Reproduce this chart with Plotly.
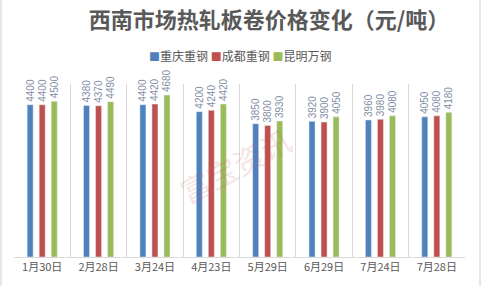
import plotly.graph_objects as go

categories = ["1月30日", "2月28日", "3月24日", "4月23日", "5月29日", "6月29日", "7月24日", "7月28日"]
series_names = ["重庆重钢", "成都重钢", "昆明万钢"]
chongqing = [4400, 4380, 4400, 4200, 3850, 3920, 3960, 4050]
chengdu = [4400, 4370, 4420, 4240, 3800, 3900, 3980, 4080]
kunming = [4500, 4490, 4680, 4420, 3930, 4050, 4080, 4180]
colors = ["#4f81bd", "#c0504d", "#9bbb59"]

W, H = 482, 286
L, R, T, B = 14, 17, 84, 29

fig = go.Figure()
for name, vals, c in zip(series_names, [chongqing, chengdu, kunming], colors):
    fig.add_trace(go.Bar(
        x=categories, y=vals, name=name, marker_color=c,
        text=[str(v) for v in vals], textposition="outside", textangle=-90,
        constraintext="none",
        textfont=dict(size=10, color="#7f8ea6", family="Liberation Sans, Arial"),
        cliponaxis=False, showlegend=False,
    ))

pw = W - L - R
ph = H - T - B
fig.update_layout(
    width=W, height=H,
    margin=dict(l=L, r=R, t=T, b=B),
    paper_bgcolor="white", plot_bgcolor="white",
    barmode="group", bargap=0.36, bargroupgap=0.5,
    showlegend=False,
    title=dict(text="西南市场热轧板卷价格变化（元/吨）", x=269 / W, xanchor="center",
               y=1 - 20 / H, yanchor="middle",
               font=dict(size=22, color="#595959", family="Noto Sans CJK SC", weight="bold")),
    xaxis=dict(type="category", tickson="boundaries", showgrid=True, gridcolor="#d9d9d9",
               gridwidth=1, showline=True, linecolor="#d9d9d9", ticks="",
               tickfont=dict(size=11, color="#595959", family="Noto Sans CJK SC")),
    yaxis=dict(range=[0, 5000], showgrid=False, showticklabels=False, zeroline=False,
               showline=False),
    font=dict(family="Noto Sans CJK SC"),
)

# compact legend built from the series names and colours
legend_text = " ".join(
    f"<span style='color:{c};font-size:11px'>■</span>{n}" for n, c in zip(series_names, colors)
)
fig.add_annotation(text=legend_text, xref="paper", yref="paper",
                   x=(240 - L) / pw, y=1 + (T - 55) / ph, xanchor="center", yanchor="middle",
                   showarrow=False, font=dict(size=12, color="#595959", family="Noto Sans CJK SC"))

# watermark
fig.add_annotation(text="富宝资讯", xref="paper", yref="paper",
                   x=(235 - L) / pw, y=(H - 165 - B) / ph, showarrow=False,
                   textangle=-28, font=dict(size=30, color="rgba(200,90,90,0.18)",
                                            family="Noto Sans CJK SC"))
# left border line
fig.add_shape(type="line", xref="paper", yref="paper",
              x0=-(L - 1) / pw, x1=-(L - 1) / pw, y0=-B / ph, y1=(H - T) / ph + 1,
              line=dict(color="#d0d0d0", width=1))
# right border line
fig.add_shape(type="line", xref="paper", yref="paper",
              x0=1 + (R - 2) / pw, x1=1 + (R - 2) / pw, y0=-B / ph, y1=(H - T) / ph + 1,
              line=dict(color="#d0d0d0", width=1))

fig.write_html("out.html")
